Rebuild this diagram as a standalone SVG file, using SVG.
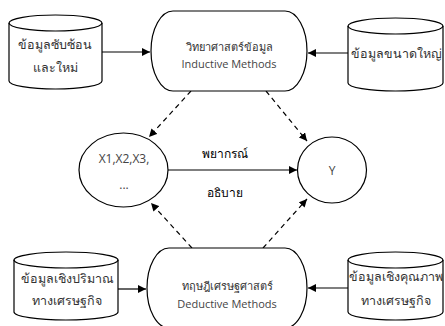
<svg xmlns="http://www.w3.org/2000/svg" width="445" height="326" viewBox="0 0 445 326">
<style>
.s{fill:#fff;stroke:#000;stroke-width:1.2}
.t{font-family:"Noto Sans","DejaVu Sans",sans-serif;font-size:12.5px;fill:#333;text-anchor:middle;dominant-baseline:central}
.e{font-family:"Open Sans","Noto Sans",sans-serif;font-size:11px;fill:#444;text-anchor:middle;dominant-baseline:central}
.b{font-family:"Noto Sans","DejaVu Sans",sans-serif;font-size:12px;fill:#000;text-anchor:middle;dominant-baseline:central}
.c{fill:none;stroke:#000;stroke-width:1.2}
.d{stroke-dasharray:5 4}
</style>
<defs>
<marker id="a" viewBox="0 0 10 10" refX="10" refY="5" markerWidth="8" markerHeight="8" markerUnits="userSpaceOnUse" orient="auto"><path d="M0,0 L10,5 L0,10 z" fill="#000"/></marker>
</defs>
<g id="connectors">
<line class="c" x1="102" y1="52" x2="150" y2="52" marker-end="url(#a)"/>
<line class="c" x1="348" y1="53" x2="308" y2="53" marker-end="url(#a)"/>
<line class="c" x1="118" y1="289" x2="146" y2="289" marker-end="url(#a)"/>
<line class="c" x1="348" y1="288" x2="308" y2="288" marker-end="url(#a)"/>
<line class="c" x1="168" y1="170" x2="297" y2="170" marker-end="url(#a)"/>
<line class="c d" x1="191" y1="91" x2="149" y2="137" marker-end="url(#a)"/>
<line class="c d" x1="266" y1="91" x2="307" y2="141" marker-end="url(#a)"/>
<line class="c d" x1="192" y1="248" x2="151" y2="203" marker-end="url(#a)"/>
<line class="c d" x1="263" y1="248" x2="307" y2="199" marker-end="url(#a)"/>
<text class="b" x="225" y="153">พยากรณ์</text>
<text class="b" x="225" y="192">อธิบาย</text>
</g>
<g id="data-complex">
<path class="s" d="M9,23 A46.5,8 0 0 1 102,23 L102,81 A46.5,8 0 0 1 9,81 Z"/>
<path class="c" d="M9,23 A46.5,8 0 0 0 102,23"/>
<text class="t" x="55" y="44">ข้อมูลซับซ้อน</text>
<text class="t" x="55" y="67">และใหม่</text>
</g>
<g id="data-science">
<rect class="s" x="151" y="11" width="156" height="80" rx="22" ry="40"/>
<text class="t" x="229" y="46" style="font-size:11px">วิทยาศาสตร์ข้อมูล</text>
<text class="e" x="229" y="63">Inductive Methods</text>
</g>
<g id="big-data">
<path class="s" d="M348,26 A47.5,8 0 0 1 443,26 L443,83 A47.5,8 0 0 1 348,83 Z"/>
<path class="c" d="M348,26 A47.5,8 0 0 0 443,26"/>
<text class="t" x="396" y="53">ข้อมูลขนาดใหญ่</text>
</g>
<g id="x-vars">
<ellipse class="s" cx="123.5" cy="170" rx="44.5" ry="37"/>
<text class="e" x="124" y="158" style="font-size:12px">X1,X2,X3,</text>
<text class="e" x="124" y="184" style="font-size:12px">...</text>
</g>
<g id="y-var">
<ellipse class="s" cx="332" cy="170" rx="34.5" ry="33"/>
<text class="e" x="332" y="170" style="font-size:12px">Y</text>
</g>
<g id="economics">
<rect class="s" x="147" y="248" width="160" height="80" rx="22" ry="40"/>
<text class="t" x="227" y="285" style="font-size:11px">ทฤษฎีเศรษฐศาสตร์</text>
<text class="e" x="227" y="303">Deductive Methods</text>
</g>
<g id="data-quant">
<path class="s" d="M14,260 A52,8 0 0 1 118,260 L118,312 A52,8 0 0 1 14,312 Z"/>
<path class="c" d="M14,260 A52,8 0 0 0 118,260"/>
<text class="t" x="67" y="278">ข้อมูลเชิงปริมาณ</text>
<text class="t" x="67" y="300">ทางเศรษฐกิจ</text>
</g>
<g id="data-qual">
<path class="s" d="M348,260 A47.5,8 0 0 1 443,260 L443,312 A47.5,8 0 0 1 348,312 Z"/>
<path class="c" d="M348,260 A47.5,8 0 0 0 443,260"/>
<text class="t" x="396" y="276">ข้อมูลเชิงคุณภาพ</text>
<text class="t" x="396" y="300">ทางเศรษฐกิจ</text>
</g>
</svg>
